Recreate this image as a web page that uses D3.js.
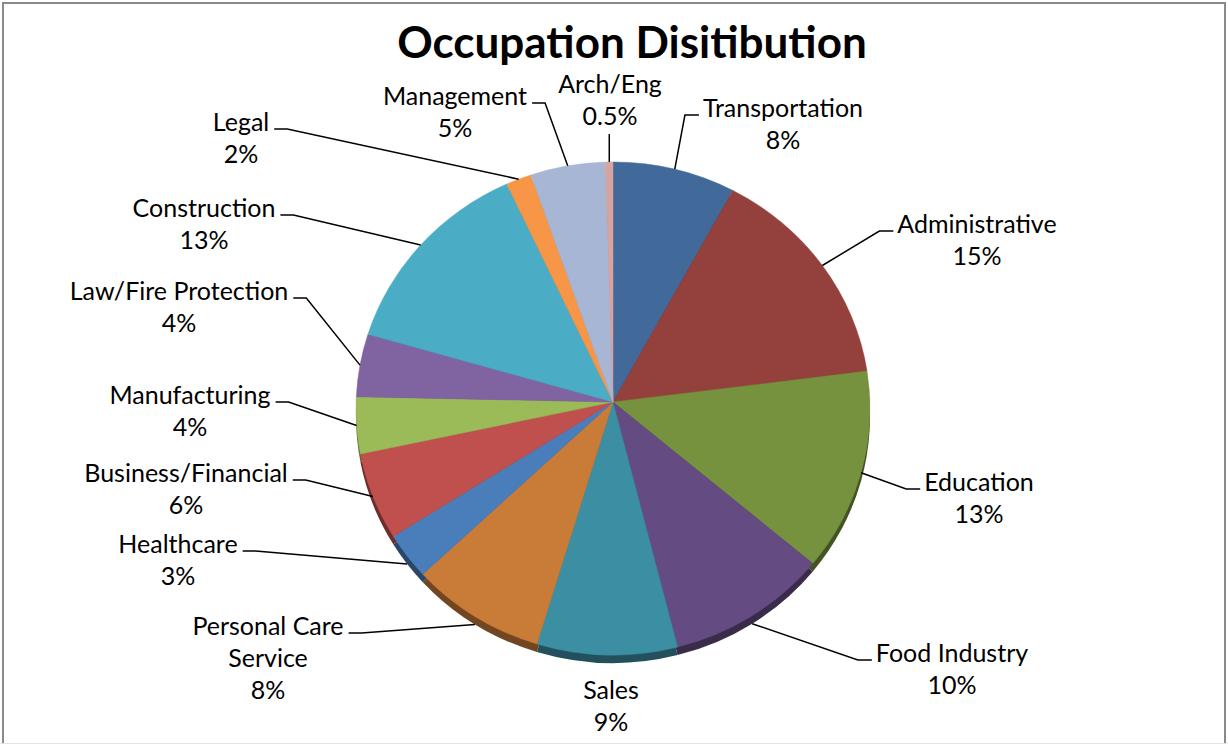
<!DOCTYPE html>
<html>
<head>
<meta charset="utf-8">
<script src="https://cdn.jsdelivr.net/npm/d3@7"></script>
<style>
  body { margin: 0; background: #fff; }
  svg { display: block; }
  text { font-family: Lato, "Open Sans", sans-serif; fill: #000; }
</style>
</head>
<body>
<svg id="chart" width="1228" height="744"></svg>
<script>
// slices, clockwise from 12 o'clock
const categories = ["Transportation", "Administrative", "Education", "Food Industry", "Sales",
    "Personal Care Service", "Healthcare", "Business/Financial", "Manufacturing",
    "Law/Fire Protection", "Construction", "Legal", "Management", "Arch/Eng"];
const shares = [7.7, 14.8, 13.2, 10.1, 8.8, 8.45, 3.05, 5.7, 3.7, 4.1, 13.3, 1.6, 4.7, 0.46];
const colours = ["#41699a", "#94403d", "#77923f", "#644c82", "#3c8ea2", "#c97b38", "#4a7ebb",
    "#c0504d", "#9bbb59", "#8064a2", "#4bacc6", "#f79646", "#a7b6d4", "#d9a3a0"];
const labelBreaks = { "Personal Care Service": ["Personal Care", "Service"] };

// where each label sits: centre x, first baseline, and which way the leader runs
const labelAnchors = [
    [783, 117, "r"], [977, 233, "r"], [979, 491, "r"], [952, 662, "r"], [611, 699, "n"],
    [268, 635, "l"], [178, 553, "l"], [186, 482, "l"], [190, 404, "l"], [179, 300, "l"],
    [204, 217, "l"], [241, 131, "l"], [455, 105, "l"], [610, 93, "v"]
];

const svg = d3.select("#chart");
const cx = 613, cy = 408.5, rx = 257, ry = 246.5;
const apex = [613, 402];
const depth = 8;
const lineGap = 32;

// border of the chart area
svg.append("rect")
    .attr("x", 3).attr("y", 3).attr("width", 1222).attr("height", 780)
    .attr("fill", "none").attr("stroke", "#8a8a8a").attr("stroke-width", 2);
svg.append("line")
    .attr("x1", 0).attr("x2", 1228).attr("y1", 743.5).attr("y2", 743.5)
    .attr("stroke", "#e4e4e4").attr("stroke-width", 1);

svg.append("text")
    .attr("x", 632).attr("y", 58)
    .attr("text-anchor", "middle")
    .style("font-size", "44px").style("font-weight", "bold")
    .text("Occupation Disitibution");

function rim(a) {
    return [cx + rx * Math.sin(a), cy - ry * Math.cos(a)];
}

function slicePath(d) {
    const p0 = rim(d.startAngle), p1 = rim(d.endAngle);
    const large = d.endAngle - d.startAngle > Math.PI ? 1 : 0;
    return "M" + apex + "L" + p0 + "A" + rx + "," + ry + " 0 " + large + " 1 " + p1 + "Z";
}

const arcs = d3.pie().sort(null).value(function (d) { return d; })(shares);

// dark side wall, peeking out below the lower rim
svg.append("g").selectAll("path")
    .data(arcs)
  .enter().append("path")
    .attr("transform", "translate(0," + depth + ")")
    .attr("d", slicePath)
    .attr("fill", function (d, i) { return d3.color(colours[i]).darker(1.6); });

svg.append("g").selectAll("path")
    .data(arcs)
  .enter().append("path")
    .attr("d", slicePath)
    .attr("fill", function (d, i) { return colours[i]; })
    .attr("stroke", function (d, i) { return colours[i]; })
    .attr("stroke-width", 0.5);

// labels
const labels = svg.append("g").selectAll("text")
    .data(arcs)
  .enter().append("text")
    .attr("text-anchor", "middle")
    .style("font-size", "25px");

labels.each(function (d, i) {
    const t = d3.select(this);
    const anchor = labelAnchors[i];
    const pct = d.data < 1 ? d3.format(".1f")(d.data) : d3.format(".0f")(d.data);
    const lines = (labelBreaks[categories[i]] || [categories[i]]).concat([pct + "%"]);
    lines.forEach(function (s, k) {
        t.append("tspan").attr("x", anchor[0]).attr("y", anchor[1] + k * lineGap).text(s);
    });
    d.firstWidth = t.select("tspan").node().getComputedTextLength();
    d.lineCount = lines.length;
});

// leader lines
const leaders = svg.append("g")
    .attr("fill", "none").attr("stroke", "#000").attr("stroke-width", 1.5);

arcs.forEach(function (d, i) {
    const anchor = labelAnchors[i];
    const mid = (d.startAngle + d.endAngle) / 2;
    const end = rim(mid);
    if (Math.cos(mid) < -0.5) end[1] += depth;
    const ly = anchor[1] - 2;
    let pts = null;
    if (anchor[2] === "l") {
        const x0 = anchor[0] + d.firstWidth / 2 + 5;
        pts = [[x0, ly], [x0 + 13, ly], end];
    } else if (anchor[2] === "r") {
        const x0 = anchor[0] - d.firstWidth / 2 - 4;
        pts = [[x0, ly], [x0 - 14, ly], end];
    } else if (anchor[2] === "v") {
        pts = [[end[0], anchor[1] + (d.lineCount - 1) * lineGap + 9], end];
    }
    if (pts) leaders.append("path").attr("d", d3.line()(pts));
});
</script>
</body>
</html>
